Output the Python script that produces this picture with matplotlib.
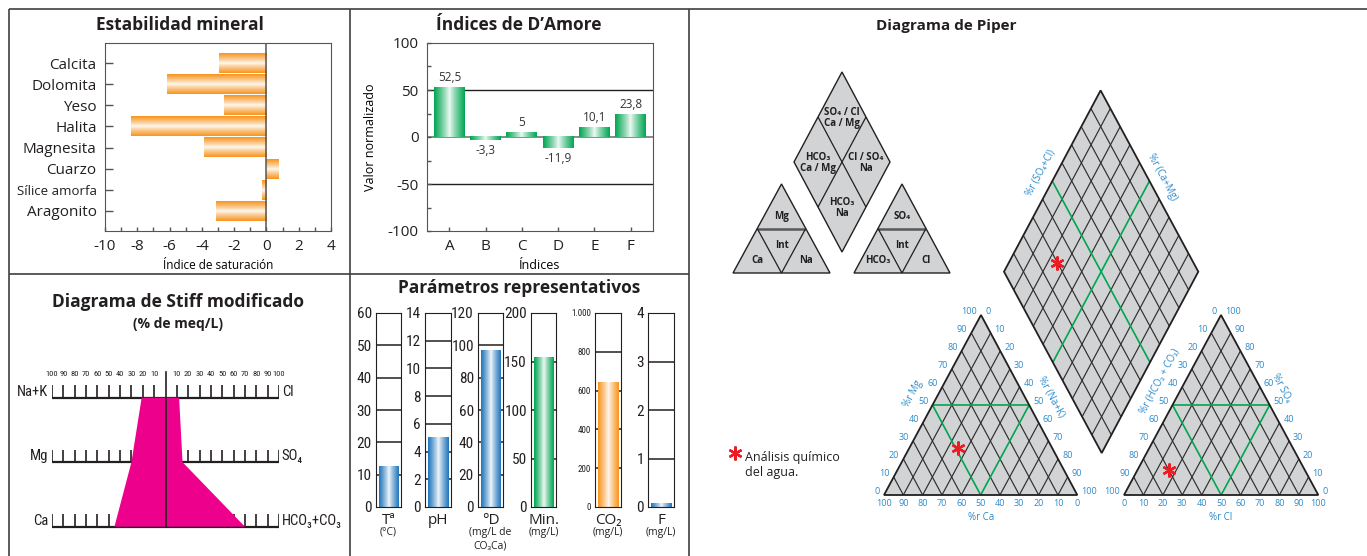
import numpy as np
import matplotlib.pyplot as plt
import matplotlib.colors as mcolors
from matplotlib import font_manager
from matplotlib.patches import Polygon
from matplotlib.ticker import MultipleLocator

# ---------------- valores ----------------
minerales = ['Calcita', 'Dolomita', 'Yeso', 'Halita', 'Magnesita', 'Cuarzo',
             'Sílice amorfa', 'Aragonito']
ind_sat = [-2.95, -6.15, -2.65, -8.4, -3.85, 0.8, -0.3, -3.1]

indices = ['A', 'B', 'C', 'D', 'E', 'F']
damore = [52.5, -3.3, 5, -11.9, 10.1, 23.8]

stiff_cat = ['Na+K', 'Mg', 'Ca']
stiff_an = ['Cl', 'SO₄', 'HCO₃+CO₃']
stiff_cat_pct = [21, 30, 45]
stiff_an_pct = [12, 15, 70]

par_nombre = ['Tª', 'pH', '°D', 'Min.', 'CO₂', 'F']
par_unidad = ['(°C)', '', '(mg/L de\nCO₃Ca)', '(mg/L)', '(mg/L)', '(mg/L)']
par_valor = [12.5, 5.0, 96.5, 154, 640, 0.08]
par_max = [60, 14, 120, 200, 1000, 4]
par_paso = [10, 2, 20, 50, 200, 1]

# piper, % meq/L
ca, mg, nak = 49, 26, 25
hco3, so4, cl = 70, 14, 16

# ---------------- estilo ----------------
NARANJA = '#F7941D'
VERDE = '#00A651'
AZUL = '#1F74BA'
MAGENTA = '#EC008C'
GRIS = '#D1D3D4'
TINTA = '#231F20'
LINEA = '#2E2E2E'
AZUL_TXT = '#2B8ACB'
ROJO = '#ED1C24'
par_color = [AZUL, AZUL, AZUL, VERDE, NARANJA, AZUL]

instaladas = {f.name for f in font_manager.fontManager.ttflist}
BASE = 'Open Sans' if 'Open Sans' in instaladas else 'DejaVu Sans'


def peso(w):
    if isinstance(w, (int, float)):
        return w
    return font_manager.weight_dict.get(w, 400)


def buscar_estrecha():
    orden = ['Open Sans', 'Noto Sans', 'Liberation Sans Narrow', 'Roboto', 'DejaVu Sans']
    cand = []
    for f in font_manager.fontManager.ttflist:
        n = f.name
        estrecha = ('Narrow' in n or 'Condensed' in n or
                    f.stretch in ('condensed', 'semi-condensed', 'extra-condensed'))
        if estrecha and f.style == 'normal' and 'Mono' not in n:
            rango = next((i for i, o in enumerate(orden) if n.startswith(o)), 9)
            cand.append((abs(peso(f.weight) - 400), rango, n, f))
    if not cand:
        return dict(family=[BASE, 'DejaVu Sans'])
    cand.sort(key=lambda c: (c[0], c[1], c[2]))
    f = cand[0][3]
    return dict(family=[f.name, 'DejaVu Sans'], weight=peso(f.weight), stretch=f.stretch)


EST = buscar_estrecha()
plt.rcParams['font.family'] = [BASE, 'DejaVu Sans']
plt.rcParams['axes.unicode_minus'] = False
plt.rcParams['text.color'] = TINTA
plt.rcParams['xtick.labelcolor'] = TINTA
plt.rcParams['ytick.labelcolor'] = TINTA

W, H = 1367, 556
fig = plt.figure(figsize=(W / 100, H / 100), dpi=100)


def caja(x0, y0, x1, y1):
    # ejes a partir de pixeles (origen arriba a la izquierda)
    return fig.add_axes([x0 / W, 1 - y1 / H, (x1 - x0) / W, (y1 - y0) / H])


def degradado(ax, barras, color, eje):
    rgb = np.array(mcolors.to_rgb(color))
    t = np.abs(np.linspace(-1, 1, 101)) ** 0.85
    perfil = 1 - (1 - rgb)[None, :] * (0.05 + 0.95 * t)[:, None]
    img = perfil[None, :, :] if eje == 'x' else perfil[:, None, :]
    for b in barras:
        x0, y0, w, h = b.get_x(), b.get_y(), b.get_width(), b.get_height()
        ax.imshow(img, extent=(x0, x0 + w, y0, y0 + h), aspect='auto',
                  interpolation='bilinear', zorder=b.get_zorder())
        b.set_visible(False)


# fondo: marcos y titulos
bg = caja(0, 0, W, H)
bg.set_xlim(0, W)
bg.set_ylim(H, 0)
bg.axis('off')
marco = dict(color='#404040', lw=1.2, solid_capstyle='butt')
bg.plot([9, W], [9, 9], **marco)
bg.plot([9, 9], [9, H], **marco)
bg.plot([349.5, 349.5], [9, H], **marco)
bg.plot([688.5, 688.5], [9, H], **marco)
bg.plot([9, 688.5], [274, 274], **marco)

tit = dict(ha='center', va='center', fontweight='bold')
bg.text(180, 25, 'Estabilidad mineral', fontsize=12.5, **tit)
bg.text(519, 25, 'Índices de D’Amore', fontsize=12.5, **tit)
bg.text(178, 302, 'Diagrama de Stiff modificado', fontsize=12.5, **tit)
bg.text(178, 324, '(% de meq/L)', fontsize=10, **tit)
bg.text(519, 288, 'Parámetros representativos', fontsize=12.5, **tit)
bg.text(946, 26, 'Diagrama de Piper', fontsize=11, **tit)

# ---------------- Estabilidad mineral ----------------
ax1 = caja(105, 43, 331, 231)
y = np.arange(len(minerales))
b1 = ax1.barh(y, ind_sat, height=0.94, color=NARANJA, zorder=2)
degradado(ax1, b1, NARANJA, 'y')
ax1.axvline(0, color='#555555', lw=1.1, zorder=3)
ax1.set_xlim(-10, 4)
ax1.set_ylim(len(minerales) - 1 + 0.95, -0.95)
ax1.set_yticks(y, minerales)
ax1.set_xticks(np.arange(-10, 5, 2))
ax1.xaxis.set_minor_locator(MultipleLocator(1))
ax1.tick_params(axis='y', direction='in', length=6, width=1, pad=6,
                colors='#555555', labelcolor=TINTA, labelsize=11)
ax1.tick_params(axis='x', which='both', direction='in', length=3, width=1,
                pad=6, colors='#555555', labelcolor=TINTA, labelsize=11)
ax1.get_yticklabels()[6].set_fontsize(9.5)
ax1.set_xlabel('Índice de saturación', fontsize=8.5)
ax1.xaxis.set_label_coords(0.5, -34 / 188)
ax1.xaxis.label.set_va('center')
for s in ax1.spines.values():
    s.set_color('#555555')

# ---------------- Indices de D'Amore ----------------
ax2 = caja(427, 43, 653, 231)
x = np.arange(len(indices))
b2 = ax2.bar(x, damore, width=0.85, color=VERDE, zorder=2)
degradado(ax2, b2, VERDE, 'x')
ax2.axhline(50, color=TINTA, lw=1, zorder=1)
ax2.axhline(-50, color=TINTA, lw=1, zorder=1)
ax2.axhline(0, color='#777777', lw=1.2, zorder=1)
for xi, v in zip(x, damore):
    ax2.annotate(f'{v:g}'.replace('.', ','), (xi, v),
                 xytext=(0, 2.5 if v > 0 else -2.5), textcoords='offset points',
                 ha='center', va='bottom' if v > 0 else 'top',
                 fontsize=8.5, color='#333333')
ax2.set_xlim(-0.62, len(indices) - 0.38)
ax2.set_ylim(-100, 100)
ax2.set_yticks([-100, -50, 0, 50, 100])
ax2.yaxis.set_minor_locator(MultipleLocator(25))
ax2.set_xticks(x, indices)
ax2.tick_params(which='both', direction='in', length=3, width=1, pad=6,
                colors='#555555', labelcolor=TINTA, labelsize=11)
ax2.set_ylabel('Valor normalizado', fontsize=9)
ax2.yaxis.set_label_coords(-57 / 226, 0.5)
ax2.yaxis.label.set_va('center')
ax2.set_xlabel('Índices', fontsize=9)
ax2.xaxis.set_label_coords(0.5, -34 / 188)
ax2.xaxis.label.set_va('center')
for s in ax2.spines.values():
    s.set_color('#555555')

# ---------------- Stiff ----------------
ax3 = caja(52, 365, 279, 535)
ax3.set_xlim(-100, 100)
ax3.set_ylim(-0.129, 2.507)
ax3.axis('off')
filas = [2, 1, 0]
marcas = np.arange(10, 101, 10)
for yy in filas:
    ax3.plot([-100, 100], [yy, yy], color=TINTA, lw=1.6, zorder=1,
             solid_capstyle='butt')
    ax3.vlines(np.concatenate([-marcas, marcas]), yy, yy + 0.19,
               color=TINTA, lw=1.2, zorder=1)
px = [-v for v in stiff_cat_pct] + stiff_an_pct[::-1]
py = filas + filas[::-1]
ax3.fill(px, py, color=MAGENTA, lw=0, zorder=2)
ax3.plot([0, 0], [0, 2.40], color=TINTA, lw=1.2, zorder=3)
for m in marcas:
    for xm in (-m, m):
        ax3.text(xm, 2.37, str(m), ha='center', va='center', fontsize=6,
                 clip_on=False, **EST)
for yy, ct, an in zip(filas, stiff_cat, stiff_an):
    ax3.text(-103.5, yy + 0.09, ct, ha='right', va='center', fontsize=10.5,
             clip_on=False, **EST)
    ax3.text(102.5, yy + 0.09, an, ha='left', va='center', fontsize=10.5,
             clip_on=False, **EST)

# ---------------- Parametros ----------------
columnas = [(376, 401), (425, 451), (478, 503), (531, 556), (595, 621), (648, 674)]
for i, (x0, x1) in enumerate(columnas):
    ax = caja(x0, 313, x1, 507)
    b = ax.bar(0, par_valor[i], width=0.8, color=par_color[i], zorder=2)
    degradado(ax, b, par_color[i], 'x')
    tk = np.arange(0, par_max[i] + par_paso[i] / 2, par_paso[i])
    for m in tk[1:-1]:
        ax.axhline(m, color=TINTA, lw=1.1, zorder=1)
    ax.set_xlim(-0.5, 0.5)
    ax.set_ylim(0, par_max[i])
    ax.set_xticks([])
    etq = [f'{int(v):,}'.replace(',', '.') for v in tk]
    ax.set_yticks(tk, etq, fontsize=6.5 if par_max[i] >= 1000 else 11, **EST)
    ax.tick_params(axis='y', length=0, pad=3)
    for s in ax.spines.values():
        s.set_color(TINTA)
    xc = (x0 + x1) / 2
    bg.text(xc, 520, par_nombre[i], ha='center', va='center', fontsize=11)
    bg.text(xc, 527, par_unidad[i], ha='center', va='top', fontsize=7.5,
            linespacing=1.3)

# ---------------- Piper ----------------
pp = caja(690, 40, W, H)
pp.set_xlim(690, W)
pp.set_ylim(H, 40)
pp.axis('off')

C_BL, C_BR, C_T = np.array([884, 495]), np.array([1077.3, 495]), np.array([981, 315])
A_BL, A_BR, A_T = np.array([1124, 495]), np.array([1318.3, 495]), np.array([1221, 315])
D_B, D_L, D_R = np.array([1101.7, 453]), np.array([1004, 271.7]), np.array([1198.3, 271.7])


def linea(p, q, color=LINEA, lw=0.8, z=2):
    pp.plot([p[0], q[0]], [p[1], q[1]], color=color, lw=lw, zorder=z,
            solid_capstyle='butt')


def triangulo(P, Q, R):
    pp.add_patch(Polygon([P, Q, R], closed=True, fc=GRIS, ec='none', zorder=1))
    for k in range(1, 10):
        f = k / 10
        verde = k == 5
        for a, b, c in ((P, Q, R), (Q, P, R)):
            linea(a * f + b * (1 - f), a * f + c * (1 - f),
                  VERDE if verde else LINEA, 1.2 if verde else 0.85, 3 if verde else 2)
    linea((P + R) / 2, (Q + R) / 2, VERDE, 1.2, 3)
    pp.add_patch(Polygon([P, Q, R], closed=True, fc='none', ec=TINTA, lw=1.3, zorder=4))


def rombo(B, L, R):
    T = L + R - B
    pp.add_patch(Polygon([B, R, T, L], closed=True, fc=GRIS, ec='none', zorder=1))
    for k in range(1, 10):
        f = k / 10
        verde = k == 5
        c, lw, z = (VERDE, 1.2, 3) if verde else (LINEA, 0.85, 2)
        s = B + f * (L - B)
        linea(s, s + (R - B), c, lw, z)
        s = B + f * (R - B)
        linea(s, s + (L - B), c, lw, z)
    pp.add_patch(Polygon([B, R, T, L], closed=True, fc='none', ec=TINTA, lw=1.3, zorder=4))


def escala(p0, p1, dx, dy, ha):
    for v in range(0, 101, 10):
        q = p0 + (p1 - p0) * v / 100
        pp.text(q[0] + dx, q[1] + dy, str(v), ha=ha, va='center',
                fontsize=6.5, color=AZUL_TXT)


triangulo(C_BL, C_BR, C_T)
triangulo(A_BL, A_BR, A_T)
rombo(D_B, D_L, D_R)

escala(C_BL, C_T, -4, -3, 'right')
escala(C_T, C_BR, 4, -3, 'left')
escala(C_BR, C_BL, 0, 9, 'center')
escala(A_T, A_BL, -4, -3, 'right')
escala(A_BR, A_T, 4, -3, 'left')
escala(A_BL, A_BR, 0, 9, 'center')

ang = np.degrees(np.arctan2(C_BL[1] - C_T[1], C_T[0] - C_BL[0]))
eje = dict(ha='center', va='center', fontsize=7, color=AZUL_TXT,
           rotation_mode='anchor')
pp.text(913, 394, '%r Mg', rotation=ang, **eje)
pp.text(1051, 397, '%r (Na+K)', rotation=-ang, **eje)
pp.text(981, 517, '%r Ca', **eje)
pp.text(1160, 381, '%r (HCO₃ + CO₃)', rotation=ang, **eje)
pp.text(1281, 388, '%r SO₄', rotation=-ang, **eje)
pp.text(1221, 517, '%r Cl', **eje)
pp.text(1041, 173, '%r (SO₄+Cl)', rotation=ang, **eje)
pp.text(1162, 177, '%r (Ca+Mg)', rotation=-ang, **eje)

# punto de analisis
p_cat = (ca * C_BL + nak * C_BR + mg * C_T) / (ca + nak + mg)
p_an = (hco3 * A_BL + cl * A_BR + so4 * A_T) / (hco3 + cl + so4)
p_dia = (D_B + (ca + mg) / (ca + mg + nak) * (D_L - D_B)
         + (so4 + cl) / (hco3 + so4 + cl) * (D_R - D_B))
ast = dict(marker=(6, 2, 0), ms=10, mew=1.7, color=ROJO, zorder=6, ls='none')
for p in (p_cat, p_an, p_dia):
    pp.plot(p[0], p[1], **ast)

# esquema de facies
mini = dict(ha='center', va='center', fontsize=7, fontweight='bold',
            linespacing=1.05)


def mini_tri(P, Q, R, textos):
    P, Q, R = map(np.array, (P, Q, R))
    pp.add_patch(Polygon([P, Q, R], closed=True, fc=GRIS, ec=TINTA, lw=1, zorder=1))
    mPQ, mPR, mQR = (P + Q) / 2, (P + R) / 2, (Q + R) / 2
    linea(mPR, mQR, '#58595B', 1.8, 2)
    linea(mPQ, mPR, TINTA, 0.9, 2)
    linea(mPQ, mQR, TINTA, 0.9, 2)
    zonas = [(R, mPR, mQR), (mPQ, mPR, mQR), (P, mPQ, mPR), (Q, mPQ, mQR)]
    for z, t in zip(zonas, textos):
        c = sum(z) / 3
        pp.text(c[0], c[1] + 2.5, t, **mini)


mini_tri((733, 273), (830, 273), (781.5, 184), ['Mg', 'Int', 'Ca', 'Na'])
mini_tri((854, 273), (950, 273), (902, 184), ['SO₄', 'Int', 'HCO₃', 'Cl'])

mB, mL, mR = np.array([842, 252]), np.array([794, 162]), np.array([890, 162])
mT = mL + mR - mB
mC = (mL + mR) / 2
pp.add_patch(Polygon([mB, mR, mT, mL], closed=True, fc=GRIS, ec=TINTA, lw=1, zorder=1))
linea((mT + mL) / 2, (mB + mR) / 2, TINTA, 0.9, 2)
linea((mT + mR) / 2, (mB + mL) / 2, TINTA, 0.9, 2)
for v, t in zip((mT, mL, mR, mB),
                ['SO₄ / Cl\nCa / Mg', 'HCO₃\nCa / Mg', 'Cl / SO₄\nNa', 'HCO₃\nNa']):
    c = (v + mC) / 2
    pp.text(c[0], c[1] + 1, t, **mini)

# leyenda
pp.plot(735, 453, **ast)
pp.text(745, 451, 'Análisis químico\ndel agua.', ha='left', va='top', fontsize=9)

fig.savefig('out.png', dpi=100)
